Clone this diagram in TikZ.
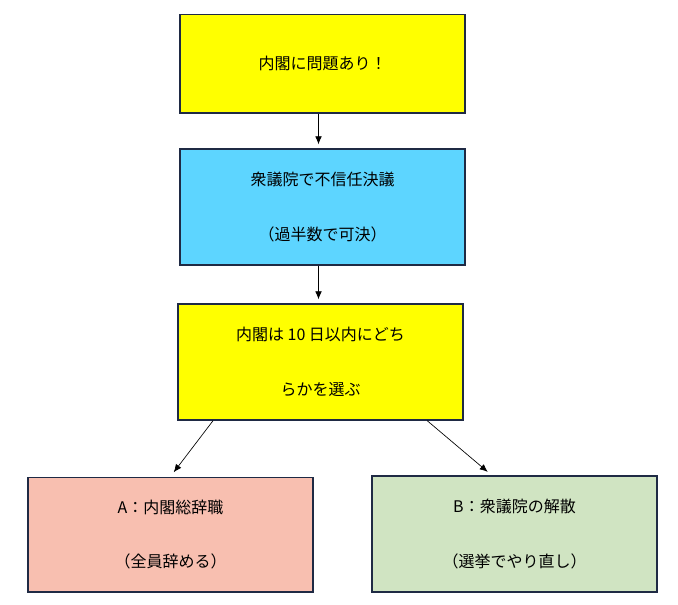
\documentclass[tikz,border=0pt]{standalone}
\usepackage{fontspec}
\setmainfont{Noto Sans CJK JP}
\usetikzlibrary{positioning,arrows.meta}
\definecolor{boxLine}{HTML}{1F2A44}
\definecolor{boxYellow}{HTML}{FFFF00}
\definecolor{boxCyan}{HTML}{5DD5FF}
\definecolor{boxPink}{HTML}{F8BFB0}
\definecolor{boxGreen}{HTML}{D0E4C2}
\tikzset{
    objBox/.style={rectangle, draw=boxLine, line width=1pt, minimum width=213.75pt, align=center, font=\fontsize{12}{41}\selectfont},
    arrow/.style={-{Latex[length=6pt,width=5pt]}, black, line width=0.5pt}
}
\begin{document}
\begin{tikzpicture}[x=0.75pt,y=-0.75pt]
    \useasboundingbox (0,0) rectangle (678,604);

    \node (b1) [objBox, fill=boxYellow, minimum height=74pt] at (322.5,63.5) {内閣に問題あり！};
    \node (b2) [objBox, fill=boxCyan, minimum height=87pt] at (322.5,207) {衆議院で不信任決議\\（過半数で可決）};
    \node (b3) [objBox, fill=boxYellow, minimum height=87pt] at (320.5,362) {内閣は 10 日以内にどち\\らかを選ぶ};
    \node (b4) [objBox, fill=boxPink, minimum height=86pt] at (170.5,534.5) {A：内閣総辞職\\（全員辞める）};
    \node (b5) [objBox, fill=boxGreen, minimum height=87pt] at (514.5,534) {B：衆議院の解散\\（選挙でやり直し）};

    \draw [arrow, shorten >=3pt] ([xshift=-3pt]b1.south) -- ([xshift=-3pt]b2.north);
    \draw [arrow, shorten >=3pt] ([xshift=-3pt]b2.south) -- ([xshift=-1.5pt]b3.north);
    \draw [arrow, shorten >=4pt] ([xshift=-80.6pt]b3.south) -- (b4.north);
    \draw [arrow, shorten >=4pt] ([xshift=80pt]b3.south) -- ([xshift=-17pt]b5.north);

\end{tikzpicture}
\end{document}
